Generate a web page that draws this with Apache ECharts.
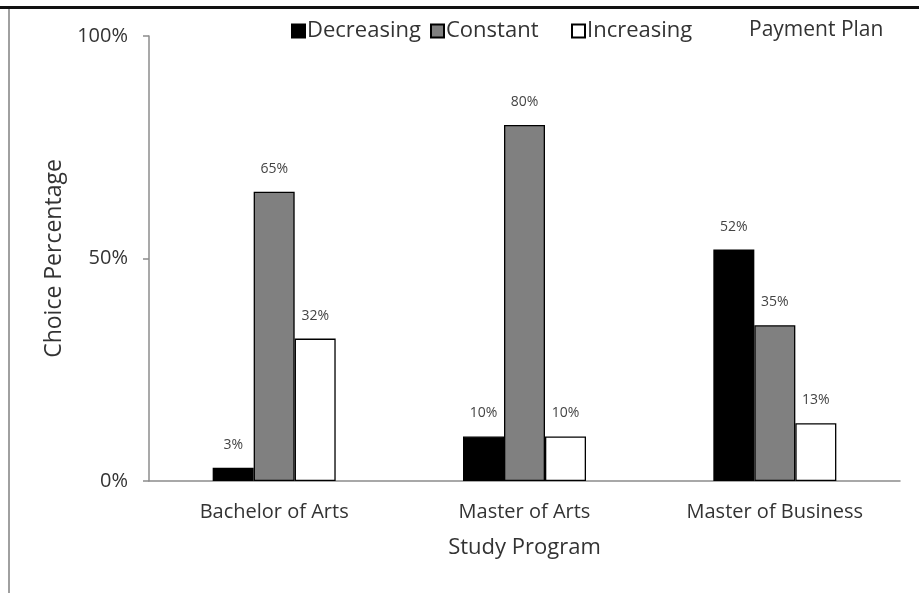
<!DOCTYPE html>
<html>
<head>
<meta charset="utf-8">
<script src="https://cdn.jsdelivr.net/npm/echarts@6/dist/echarts.min.js"></script>
<style>
  html, body { margin: 0; padding: 0; background: #fff; }
  #chart { width: 919px; height: 593px; }
</style>
</head>
<body>
<div id="chart"></div>
<script>
// Study programs on the category axis
const programs = ['Bachelor of Arts', 'Master of Arts', 'Master of Business'];
// Share of students choosing each payment plan (percent)
const decreasing = [3, 10, 52];
const constant = [65, 80, 35];
const increasing = [32, 10, 13];
// Legend entries, one per plan
const plans = ['Decreasing', 'Constant', 'Increasing'];
// Value axis ticks (percent)
const yTicks = [0, 50, 100];

const FONT = '"Open Sans", "DejaVu Sans", sans-serif';
const TEXT = '#333';

const chart = echarts.init(document.getElementById('chart'));

const labelStyle = {
  show: true,
  position: 'top',
  distance: 16,
  formatter: '{c}%',
  fontFamily: FONT,
  fontSize: 14,
  color: '#444'
};

function barSeries(name, data, fill) {
  return {
    name: name,
    type: 'bar',
    data: data,
    barWidth: 41,
    barGap: '0%',
    itemStyle: { color: fill, borderColor: '#000', borderWidth: 1.3 },
    label: labelStyle
  };
}

// each legend entry gets its own slot along the top edge
const legendLefts = [286, 425, 566];
const legends = plans.map((p, i) => ({
  left: legendLefts[i],
  top: 15,
  icon: 'rect',
  itemWidth: 13,
  itemHeight: 13,
  textStyle: { fontFamily: FONT, fontSize: 22, color: TEXT, padding: [0, 0, 0, -3] },
  data: [p]
}));

chart.setOption({
  animation: false,
  backgroundColor: '#fff',
  textStyle: { fontFamily: FONT },
  title: {
    text: 'Payment Plan',
    left: 744,
    top: 15,
    textStyle: { fontFamily: FONT, fontSize: 21, fontWeight: 'normal', color: TEXT }
  },
  legend: legends,
  grid: { left: 149, right: 19, top: 36, bottom: 112, containLabel: false },
  xAxis: {
    type: 'category',
    data: programs,
    name: 'Study Program',
    nameLocation: 'middle',
    nameGap: 56,
    nameTextStyle: { fontFamily: FONT, fontSize: 22, color: TEXT },
    axisLine: { lineStyle: { color: '#8c8c8c', width: 1.5 } },
    axisTick: { show: false },
    axisLabel: { fontFamily: FONT, fontSize: 20, color: TEXT, margin: 21 }
  },
  yAxis: {
    type: 'value',
    min: yTicks[0],
    max: yTicks[yTicks.length - 1],
    interval: yTicks[1] - yTicks[0],
    name: 'Choice Percentage',
    nameLocation: 'middle',
    nameRotate: 90,
    nameGap: 75,
    nameTextStyle: { fontFamily: FONT, fontSize: 23, color: TEXT },
    axisLine: { show: true, lineStyle: { color: '#8c8c8c', width: 1.5 } },
    axisTick: { show: true, length: 6, lineStyle: { color: '#8c8c8c', width: 1.5 } },
    splitLine: { show: false },
    axisLabel: { fontFamily: FONT, fontSize: 20, color: TEXT, margin: 21, formatter: '{value}%' }
  },
  series: [
    barSeries(plans[0], decreasing, '#000000'),
    barSeries(plans[1], constant, '#808080'),
    barSeries(plans[2], increasing, '#ffffff')
  ],
  graphic: [
    // frame: dark rule along the top, light rule down the left side
    { type: 'rect', shape: { x: 0, y: 6, width: 919, height: 3 }, style: { fill: '#111' }, silent: true },
    { type: 'rect', shape: { x: 8, y: 9, width: 2, height: 584 }, style: { fill: '#a0a0a0' }, silent: true }
  ]
});
</script>
</body>
</html>
